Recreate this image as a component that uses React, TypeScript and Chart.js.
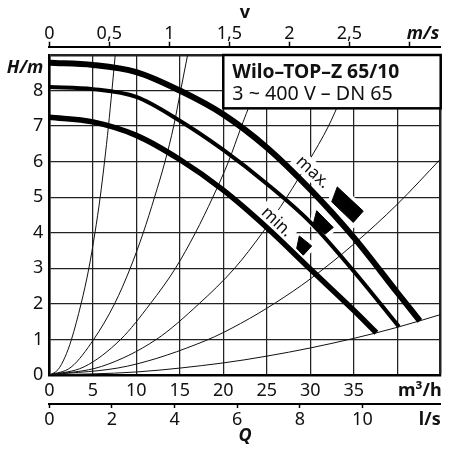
import { useEffect, useRef } from 'react';
import { Chart, registerables } from 'chart.js';

Chart.register(...registerables);

// ---- axes ----
const flowTicks = [0, 5, 10, 15, 20, 25, 30, 35, 40, 45];
const flowUnitAt = 42.6;
const flowMax = 45;
const headTicks = [0, 1, 2, 3, 4, 5, 6, 7, 8, 9];
const headUnitAt = 8.63;
const headMax = 9;
const velTicks = [0, 0.5, 1, 1.5, 2, 2.5, 3];
const velUnitAt = 3.113;
const velMax = 45 / 13.8;
const lsTicks = [0, 2, 4, 6, 8, 10];
const lsUnitAt = 12.15;
const lsMax = 12.5;

// ---- pump curves (Q m3/h, H m) ----
const maxQ = [0, 5, 10, 15, 20, 25, 30, 35, 40, 42.6];
const maxH = [8.78, 8.72, 8.52, 8.0, 7.33, 6.4, 5.22, 3.87, 2.32, 1.52];
const midQ = [0, 5, 10, 15, 20, 25, 30, 35, 40.2];
const midH = [8.1, 8.04, 7.82, 7.15, 6.33, 5.38, 4.3, 2.92, 1.36];
const minQ = [0, 5, 10, 15, 20, 25, 30, 35, 37.6];
const minH = [7.25, 7.12, 6.74, 6.06, 5.2, 4.15, 2.98, 1.82, 1.19];

// ---- system curves ----
const sys1Q = [0, 1, 1.8, 2.55, 3.65, 4.55, 5.25, 5.85, 6.35, 6.8, 7.2, 7.58];
const sys1H = [0, 0.15, 0.5, 1, 2, 3, 4, 5, 6, 7, 8, 9];
const sys2Q = [0, 2.5, 5.1, 7.5, 9.3, 10.8, 12.1, 13.3, 14.3, 15.1, 15.9];
const sys2H = [0, 0.22, 1, 2, 3, 4, 5, 6, 7, 8, 9];
const sys3Q = [0, 4, 8.2, 11.6, 14.5, 16.8, 18.8, 20.6, 22.1, 23.2];
const sys3H = [0, 0.23, 1, 2, 3, 4, 5, 6, 7, 7.7];
const sys4Q = [0, 6, 12.3, 17.2, 21.3, 24.5, 27.3, 29.8, 32.1, 33.4];
const sys4H = [0, 0.24, 1, 2, 3, 4, 5, 6, 7, 7.7];
const sys5Q = [0, 9, 18, 22, 26, 30, 35, 40, 45];
const sys5H = [0, 0.25, 0.97, 1.45, 2.03, 2.7, 3.68, 4.8, 6.08];
const sys6Q = [0, 10, 20, 25, 30, 35, 40, 45];
const sys6H = [0, 0.085, 0.34, 0.53, 0.76, 1.03, 1.34, 1.7];

// ---- speed wedges ----
const wedgeMaxQ = [33.11, 36.1, 34.95, 32.47];
const wedgeMaxH = [5.29, 4.61, 4.29, 4.87];
const wedgeMidQ = [30.74, 32.65, 31.7, 30.35];
const wedgeMidH = [4.62, 4.15, 3.96, 4.25];
const wedgeMinQ = [28.74, 30.17, 29.2, 28.44];
const wedgeMinH = [3.91, 3.63, 3.37, 3.56];

// ---- texts ----
const speedLabels = ['max.', 'min.'];
const speedLabelQ = [30.3, 26.15];
const speedLabelH = [5.7, 4.3];
const speedLabelAngle = 43;
const boxQ = [20, 45];
const boxH = [7.5, 9];
const boxLines = ['Wilo–TOP–Z 65/10', '3 ~ 400 V – DN 65'];

const FAM = '"Noto Sans", sans-serif';
const INK = '#111';
const GRID = '#222';
const CLEAR = 'rgba(0,0,0,0)';

const pts = (q: number[], h: number[]) => q.map((v, i) => ({ x: v, y: h[i] }));
const closed = (q: number[], h: number[]) => [...pts(q, h), { x: q[0], y: h[0] }];
const comma = (v: number) => String(v).replace('.', ',');

const overlayPlugin = {
  id: 'overlay',
  afterDatasetDraw(chart: any, args: any) {
    const ds = chart.data.datasets[args.index];
    if (ds.label !== 'halo-min') return;
    const { ctx } = chart;
    const xs = chart.scales.x;
    const ys = chart.scales.y;
    speedLabels.forEach((t, i) => {
      const px = xs.getPixelForValue(speedLabelQ[i]);
      const py = ys.getPixelForValue(speedLabelH[i]);
      ctx.save();
      ctx.translate(px, py);
      ctx.rotate((speedLabelAngle * Math.PI) / 180);
      ctx.font = `17px ${FAM}`;
      const w = ctx.measureText(t).width;
      ctx.fillStyle = '#fff';
      ctx.fillRect(-w / 2 - 4, -10, w + 8, 19);
      ctx.fillStyle = INK;
      ctx.textAlign = 'center';
      ctx.textBaseline = 'middle';
      ctx.fillText(t, 0, 0);
      ctx.restore();
    });
  },
  afterDatasetsDraw(chart: any) {
    const { ctx } = chart;
    const xs = chart.scales.x;
    const ys = chart.scales.y;
    const l = xs.getPixelForValue(boxQ[0]);
    const r = xs.getPixelForValue(boxQ[1]);
    const t = ys.getPixelForValue(boxH[1]);
    const b = ys.getPixelForValue(boxH[0]);
    ctx.save();
    ctx.fillStyle = '#fff';
    ctx.fillRect(l, t, r - l, b - t);
    ctx.strokeStyle = '#000';
    ctx.lineWidth = 2.5;
    ctx.strokeRect(l, t, r - l, b - t);
    ctx.fillStyle = INK;
    ctx.textAlign = 'left';
    ctx.textBaseline = 'alphabetic';
    ctx.font = `bold 19.3px ${FAM}`;
    ctx.fillText(boxLines[0], l + 9, t + 23.3);
    ctx.font = `19.7px ${FAM}`;
    ctx.fillText(boxLines[1], l + 9, t + 45);
    ctx.restore();
  },
};

export default function App() {
  const ref = useRef<HTMLCanvasElement | null>(null);

  useEffect(() => {
    if (!ref.current) return;
    const thin = (q: number[], h: number[]) => ({
      data: pts(q, h),
      borderColor: INK,
      borderWidth: 1,
      pointRadius: 0,
      cubicInterpolationMode: 'monotone' as const,
      fill: false,
      order: 2,
    });
    const pump = (q: number[], h: number[], w: number) => ({
      data: pts(q, h),
      borderColor: '#000',
      borderWidth: w,
      pointRadius: 0,
      cubicInterpolationMode: 'monotone' as const,
      fill: false,
      order: 1,
    });
    const halo = (q: number[], h: number[], label: string, order: number) => ({
      label,
      data: closed(q, h),
      borderColor: '#fff',
      borderWidth: 8,
      borderJoinStyle: 'miter' as const,
      pointRadius: 0,
      tension: 0,
      fill: false,
      order,
    });
    const wedge = (q: number[], h: number[]) => ({
      data: closed(q, h),
      borderColor: '#000',
      backgroundColor: '#000',
      borderWidth: 1,
      borderJoinStyle: 'miter' as const,
      pointRadius: 0,
      tension: 0,
      fill: 'shape' as const,
      order: 0,
    });
    const tickFont = { family: FAM, size: 18, lineHeight: 1 };

    const chart = new Chart(ref.current, {
      type: 'line',
      data: {
        datasets: [
          thin(sys1Q, sys1H),
          thin(sys2Q, sys2H),
          thin(sys3Q, sys3H),
          thin(sys4Q, sys4H),
          thin(sys5Q, sys5H),
          thin(sys6Q, sys6H),
          halo(wedgeMaxQ, wedgeMaxH, 'halo-max', 1.6),
          halo(wedgeMidQ, wedgeMidH, 'halo-mid', 1.55),
          halo(wedgeMinQ, wedgeMinH, 'halo-min', 1.5),
          pump(maxQ, maxH, 6),
          pump(midQ, midH, 4),
          pump(minQ, minH, 5.5),
          wedge(wedgeMaxQ, wedgeMaxH),
          wedge(wedgeMidQ, wedgeMidH),
          wedge(wedgeMinQ, wedgeMinH),
        ] as any,
      },
      options: {
        animation: false,
        responsive: false,
        events: [],
        layout: { padding: { left: 0, right: 9.3, top: 0, bottom: 0 } },
        plugins: { legend: { display: false }, tooltip: { enabled: false } },
        scales: {
          x: {
            type: 'linear',
            position: 'bottom',
            min: 0,
            max: flowMax,
            weight: 0,
            afterBuildTicks: (s: any) => {
              s.ticks = [...flowTicks, flowUnitAt].map((v) => ({ value: v }));
            },
            afterFit: (s: any) => {
              s.height = 29;
            },
            ticks: {
              autoSkip: false,
              maxRotation: 0,
              padding: 5,
              color: INK,
              font: (c: any) =>
                c.tick && c.tick.value === flowUnitAt
                  ? { family: FAM, size: 18, weight: 'bold' }
                  : { family: FAM, size: 18 },
              callback: (v: any) =>
                v === flowUnitAt ? 'm³/h' : v === 40 || v === 45 ? '' : String(v),
            },
            grid: {
              drawTicks: false,
              color: (c: any) => (c.tick && c.tick.value === flowUnitAt ? CLEAR : GRID),
              lineWidth: (c: any) => (c.tick && c.tick.value === flowMax ? 2.5 : 1.25),
            },
            border: { display: true, color: '#000', width: 2.5 },
          },
          ls: {
            type: 'linear',
            position: 'bottom',
            axis: 'x',
            min: 0,
            max: lsMax,
            weight: 1,
            afterBuildTicks: (s: any) => {
              s.ticks = [...lsTicks, lsUnitAt].map((v) => ({ value: v }));
            },
            afterFit: (s: any) => {
              s.height = 46;
            },
            ticks: {
              autoSkip: false,
              maxRotation: 0,
              padding: 1,
              color: INK,
              font: (c: any) =>
                c.tick && c.tick.value === lsUnitAt
                  ? { family: FAM, size: 18, weight: 'bold' }
                  : { family: FAM, size: 18 },
              callback: (v: any) => (v === lsUnitAt ? 'l/s' : String(v)),
            },
            grid: {
              drawOnChartArea: false,
              drawTicks: true,
              tickLength: 4,
              tickWidth: 1.5,
              tickColor: (c: any) => (c.tick && c.tick.value === lsUnitAt ? CLEAR : '#000'),
            },
            border: { display: true, color: '#000', width: 2 },
            title: {
              display: true,
              text: 'Q',
              color: INK,
              font: { family: FAM, size: 18, weight: 'bold', style: 'italic' },
              padding: { top: 0, bottom: 3 },
            },
          },
          gap: {
            type: 'linear',
            position: 'top',
            axis: 'x',
            min: 0,
            max: 1,
            weight: 0,
            afterFit: (s: any) => {
              s.height = 8.3;
            },
            ticks: { display: false },
            grid: { display: false },
            border: { display: false },
          },
          v: {
            type: 'linear',
            position: 'top',
            axis: 'x',
            min: 0,
            max: velMax,
            weight: 1,
            afterBuildTicks: (s: any) => {
              s.ticks = [...velTicks, velUnitAt].map((v) => ({ value: v }));
            },
            afterFit: (s: any) => {
              s.height = 46.7;
            },
            ticks: {
              autoSkip: false,
              maxRotation: 0,
              padding: -1,
              color: INK,
              font: (c: any) =>
                c.tick && c.tick.value === velUnitAt
                  ? { ...tickFont, weight: 'bold', style: 'italic' }
                  : tickFont,
              callback: (v: any) => (v === velUnitAt ? 'm/s' : v === 3 ? '' : comma(v)),
            },
            grid: {
              drawOnChartArea: false,
              drawTicks: true,
              tickLength: 5,
              tickWidth: 1.5,
              tickColor: (c: any) => (c.tick && c.tick.value === velUnitAt ? CLEAR : '#000'),
            },
            border: { display: true, color: '#000', width: 2 },
            title: {
              display: true,
              text: 'v',
              color: INK,
              font: { family: FAM, size: 18, weight: 'bold' },
              padding: { top: 2, bottom: 0 },
            },
          },
          y: {
            type: 'linear',
            position: 'left',
            min: 0,
            max: headMax,
            afterBuildTicks: (s: any) => {
              s.ticks = [...headTicks, headUnitAt].map((v) => ({ value: v }));
            },
            afterFit: (s: any) => {
              s.width = 49.3;
            },
            ticks: {
              autoSkip: false,
              padding: 6,
              color: INK,
              font: (c: any) =>
                c.tick && c.tick.value === headUnitAt
                  ? { family: FAM, size: 18, weight: 'bold', style: 'italic' }
                  : { family: FAM, size: 18 },
              callback: (v: any) => (v === headUnitAt ? 'H/m' : v === headMax ? '' : String(v)),
            },
            grid: {
              drawTicks: false,
              color: (c: any) => (c.tick && c.tick.value === headUnitAt ? CLEAR : GRID),
              lineWidth: (c: any) => (c.tick && c.tick.value === headMax ? 2.5 : 1.25),
            },
            border: { display: true, color: '#000', width: 2.5 },
          },
        },
      } as any,
      plugins: [overlayPlugin],
    });
    return () => chart.destroy();
  }, []);

  return (
    <div style={{ position: 'fixed', left: 0, top: 0, width: 450, height: 450, background: '#fff' }}>
      <canvas ref={ref} width={450} height={450} style={{ display: 'block' }} />
    </div>
  );
}
